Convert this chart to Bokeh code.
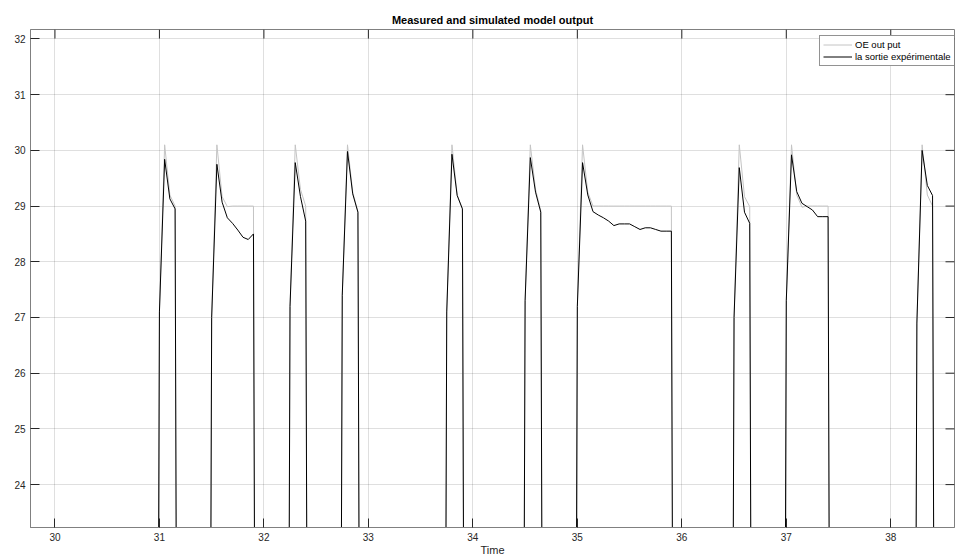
import math
from bokeh.plotting import figure
from bokeh.models import Range1d, FixedTicker, Legend, LegendItem
from bokeh.embed import file_html
from bokeh.resources import INLINE

# ---------------- data ----------------
title_text = "Measured and simulated model output"
x_ticks = [30, 31, 32, 33, 34, 35, 36, 37, 38]
y_ticks = [24, 25, 26, 27, 28, 29, 30, 31, 32]

x_lim = (29.766, 38.61)
y_lim = (23.23, 32.17)

sample_step = 0.05
off_level = 0.0
series_start = 29.70
series_end = 38.65

pulse_start = [31.0, 31.5, 32.25, 32.75, 33.75, 34.5, 35.0, 36.5, 37.0, 38.25]

measured = [
    [27.1, 29.84, 29.13, 28.95],
    [27.0, 29.75, 29.07, 28.79, 28.69, 28.57, 28.44, 28.40, 28.50],
    [27.2, 29.78, 29.17, 28.73],
    [27.4, 29.98, 29.22, 28.89],
    [27.1, 29.93, 29.19, 28.95],
    [27.3, 29.87, 29.25, 28.89],
    [27.2, 29.78, 29.20, 28.90, 28.84, 28.79, 28.73, 28.65, 28.68, 28.68,
     28.68, 28.63, 28.58, 28.61, 28.61, 28.58, 28.55, 28.55, 28.55],
    [27.0, 29.69, 28.89, 28.69],
    [27.3, 29.92, 29.26, 29.05, 28.99, 28.93, 28.81, 28.81, 28.81],
    [26.9, 30.00, 29.37, 29.19],
]

simulated = [
    [27.1, 30.10, 29.20, 29.00],
    [27.0, 30.10, 29.17, 28.99, 29.00, 29.00, 29.00, 29.00, 29.00],
    [27.2, 30.10, 29.30, 29.00],
    [27.4, 30.10, 29.25, 28.90],
    [27.1, 30.10, 29.20, 28.95],
    [27.3, 30.10, 29.30, 28.92],
    [27.2, 30.10, 29.25, 29.00, 29.00, 29.00, 29.00, 29.00, 29.00, 29.00,
     29.00, 29.00, 29.00, 29.00, 29.00, 29.00, 29.00, 29.00, 29.00],
    [27.0, 30.10, 29.17, 28.99],
    [27.3, 30.10, 29.20, 28.98, 29.00, 29.00, 29.00, 29.00, 29.00],
    [26.9, 30.10, 29.20, 29.00],
]


def build(starts, pulses):
    xs = [series_start]
    ys = [off_level]
    for t0, vals in zip(starts, pulses):
        xs.append(t0 - sample_step)
        ys.append(off_level)
        for i, v in enumerate(vals):
            xs.append(t0 + i * sample_step)
            ys.append(v)
        xs.append(t0 + len(vals) * sample_step)
        ys.append(off_level)
    xs.append(series_end)
    ys.append(off_level)
    return xs, ys


sx, sy = build(pulse_start, simulated)
mx, my = build(pulse_start, measured)

FONT = "Liberation Sans"
DARK = "#262626"

p = figure(width=955, height=558, output_backend="svg", toolbar_location=None,
           x_range=Range1d(*x_lim), y_range=Range1d(*y_lim),
           min_border_left=30, min_border_right=1, min_border_top=29, min_border_bottom=29,
           title=title_text)

p.title.text_font = FONT
p.title.text_font_size = "11px"
p.title.text_font_style = "bold"
p.title.align = "center"
p.title.standoff = 8
p.title.text_color = "#000000"

p.background_fill_color = "white"
p.border_fill_color = "white"
p.outline_line_color = "#808080"
p.outline_line_width = 1

for ax, ticks in ((p.xaxis[0], x_ticks), (p.yaxis[0], y_ticks)):
    ax.ticker = FixedTicker(ticks=ticks)
    ax.major_tick_in = 9
    ax.major_tick_out = 0
    ax.minor_tick_line_color = None
    ax.major_tick_line_color = DARK
    ax.axis_line_color = "#808080"
    ax.major_label_text_font = FONT
    ax.major_label_text_font_size = "10px"
    ax.major_label_text_color = DARK
    ax.axis_label_text_font = FONT
    ax.axis_label_text_font_size = "11px"
    ax.axis_label_text_font_style = "normal"
    ax.axis_label_text_color = DARK

p.xaxis[0].axis_label = "Time"
p.xaxis[0].major_label_standoff = 5
p.xaxis[0].axis_label_standoff = 0
p.yaxis[0].major_label_standoff = 5

p.xgrid.ticker = FixedTicker(ticks=x_ticks)
p.ygrid.ticker = FixedTicker(ticks=y_ticks)
p.xgrid.grid_line_color = DARK
p.ygrid.grid_line_color = DARK
p.xgrid.grid_line_alpha = 0.15
p.ygrid.grid_line_alpha = 0.15

r_sim = p.line(sx, sy, line_color="#c4c4c4", line_width=1)
r_meas = p.line(mx, my, line_color="#000000", line_width=1)

# inward ticks on the top and right edges of the box
p.ray(x=x_ticks, y=[y_lim[1]] * len(x_ticks), length=9, length_units="screen",
      angle=-math.pi / 2, line_color=DARK, line_width=1)
p.ray(x=[x_lim[1]] * len(y_ticks), y=y_ticks, length=9, length_units="screen",
      angle=math.pi, line_color=DARK, line_width=1)

legend = Legend(items=[LegendItem(label="OE out put", renderers=[r_sim]),
                       LegendItem(label="la sortie expérimentale", renderers=[r_meas])],
                location=(789, 461))
legend.label_text_font = FONT
legend.label_text_font_size = "9.5px"
legend.label_text_color = "#000000"
legend.label_height = 11
legend.glyph_height = 11
legend.glyph_width = 29
legend.label_standoff = 3
legend.spacing = 1
legend.padding = 3
legend.margin = 0
legend.border_line_color = DARK
legend.border_line_width = 1
legend.background_fill_color = "white"
legend.background_fill_alpha = 1
p.add_layout(legend)

open("out.html", "w").write(file_html(p, INLINE))
